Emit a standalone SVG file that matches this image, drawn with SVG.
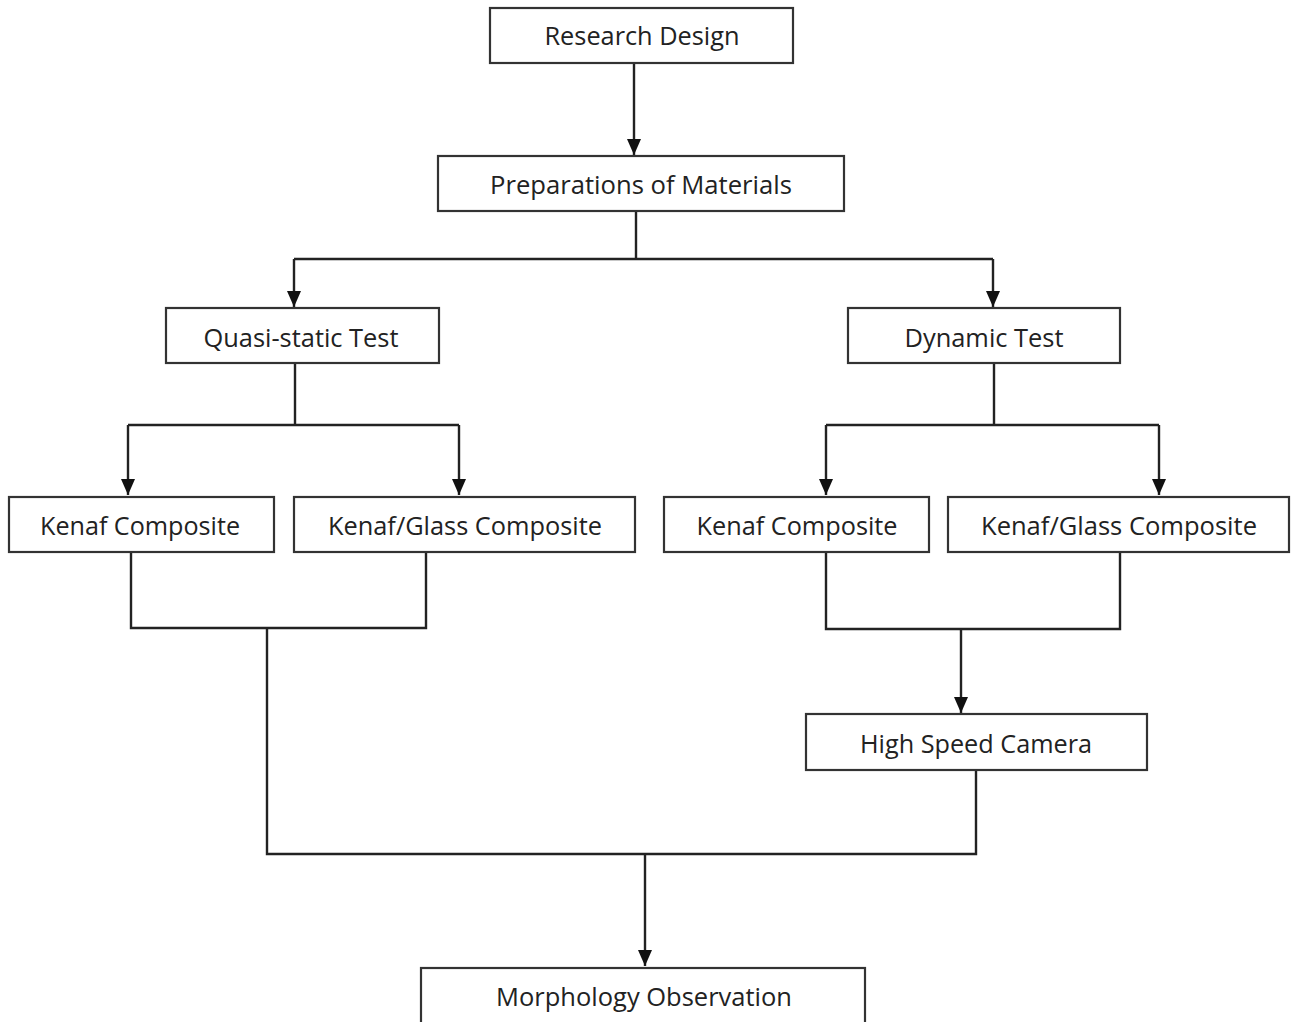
<svg xmlns="http://www.w3.org/2000/svg" width="1297" height="1022" viewBox="0 0 1297 1022">
<style>
.box{fill:#fff;stroke:#333;stroke-width:2.2}
.lbl{font-family:"Open Sans","Noto Sans",sans-serif;font-size:25px;fill:#222;text-anchor:middle}
.ln{fill:none;stroke:#222;stroke-width:2.4}
</style>
<defs>
<marker id="ad" markerUnits="userSpaceOnUse" markerWidth="18" markerHeight="16" refX="16" refY="8" orient="auto" viewBox="0 0 18 16">
<path d="M0,1 L16,8 L0,15 Z" fill="#111"/>
</marker>
</defs>
<rect width="1297" height="1022" fill="#fff"/>
<g id="connectors">
<path class="ln" d="M634,63 V155" marker-end="url(#ad)"/>
<path class="ln" d="M636,211 V259"/>
<path class="ln" d="M294,259 H993"/>
<path class="ln" d="M294,259 V307" marker-end="url(#ad)"/>
<path class="ln" d="M993,259 V307" marker-end="url(#ad)"/>
<path class="ln" d="M295,363 V425"/>
<path class="ln" d="M128,425 H459"/>
<path class="ln" d="M128,425 V495" marker-end="url(#ad)"/>
<path class="ln" d="M459,425 V495" marker-end="url(#ad)"/>
<path class="ln" d="M994,363 V425"/>
<path class="ln" d="M826,425 H1159"/>
<path class="ln" d="M826,425 V495" marker-end="url(#ad)"/>
<path class="ln" d="M1159,425 V495" marker-end="url(#ad)"/>
<path class="ln" d="M131,552 V628 H426 V552"/>
<path class="ln" d="M826,552 V629 H1120 V552"/>
<path class="ln" d="M961,629 V713" marker-end="url(#ad)"/>
<path class="ln" d="M267,628 V854 H976 V770"/>
<path class="ln" d="M645,854 V966" marker-end="url(#ad)"/>
</g>
<g id="n-research"><rect class="box" x="490" y="8" width="303" height="55"/><text class="lbl" x="642" y="45" textLength="195" lengthAdjust="spacingAndGlyphs">Research Design</text></g>
<g id="n-prep"><rect class="box" x="438" y="156" width="406" height="55"/><text class="lbl" x="641" y="194" textLength="302" lengthAdjust="spacingAndGlyphs">Preparations of Materials</text></g>
<g id="n-quasi"><rect class="box" x="166" y="308" width="273" height="55"/><text class="lbl" x="301" y="347" textLength="195" lengthAdjust="spacingAndGlyphs">Quasi-static Test</text></g>
<g id="n-dynamic"><rect class="box" x="848" y="308" width="272" height="55"/><text class="lbl" x="984" y="347" textLength="159" lengthAdjust="spacingAndGlyphs">Dynamic Test</text></g>
<g id="n-kenaf-l"><rect class="box" x="9" y="497" width="265" height="55"/><text class="lbl" x="140" y="535" textLength="200" lengthAdjust="spacingAndGlyphs">Kenaf Composite</text></g>
<g id="n-kg-l"><rect class="box" x="294" y="497" width="341" height="55"/><text class="lbl" x="465" y="535" textLength="274" lengthAdjust="spacingAndGlyphs">Kenaf/Glass Composite</text></g>
<g id="n-kenaf-r"><rect class="box" x="664" y="497" width="265" height="55"/><text class="lbl" x="797" y="535" textLength="201" lengthAdjust="spacingAndGlyphs">Kenaf Composite</text></g>
<g id="n-kg-r"><rect class="box" x="948" y="497" width="341" height="55"/><text class="lbl" x="1119" y="535" textLength="276" lengthAdjust="spacingAndGlyphs">Kenaf/Glass Composite</text></g>
<g id="n-camera"><rect class="box" x="806" y="714" width="341" height="56"/><text class="lbl" x="976" y="753" textLength="232" lengthAdjust="spacingAndGlyphs">High Speed Camera</text></g>
<g id="n-morph"><rect class="box" x="421" y="968" width="444" height="62"/><text class="lbl" x="644" y="1006" textLength="296" lengthAdjust="spacingAndGlyphs">Morphology Observation</text></g>
</svg>
